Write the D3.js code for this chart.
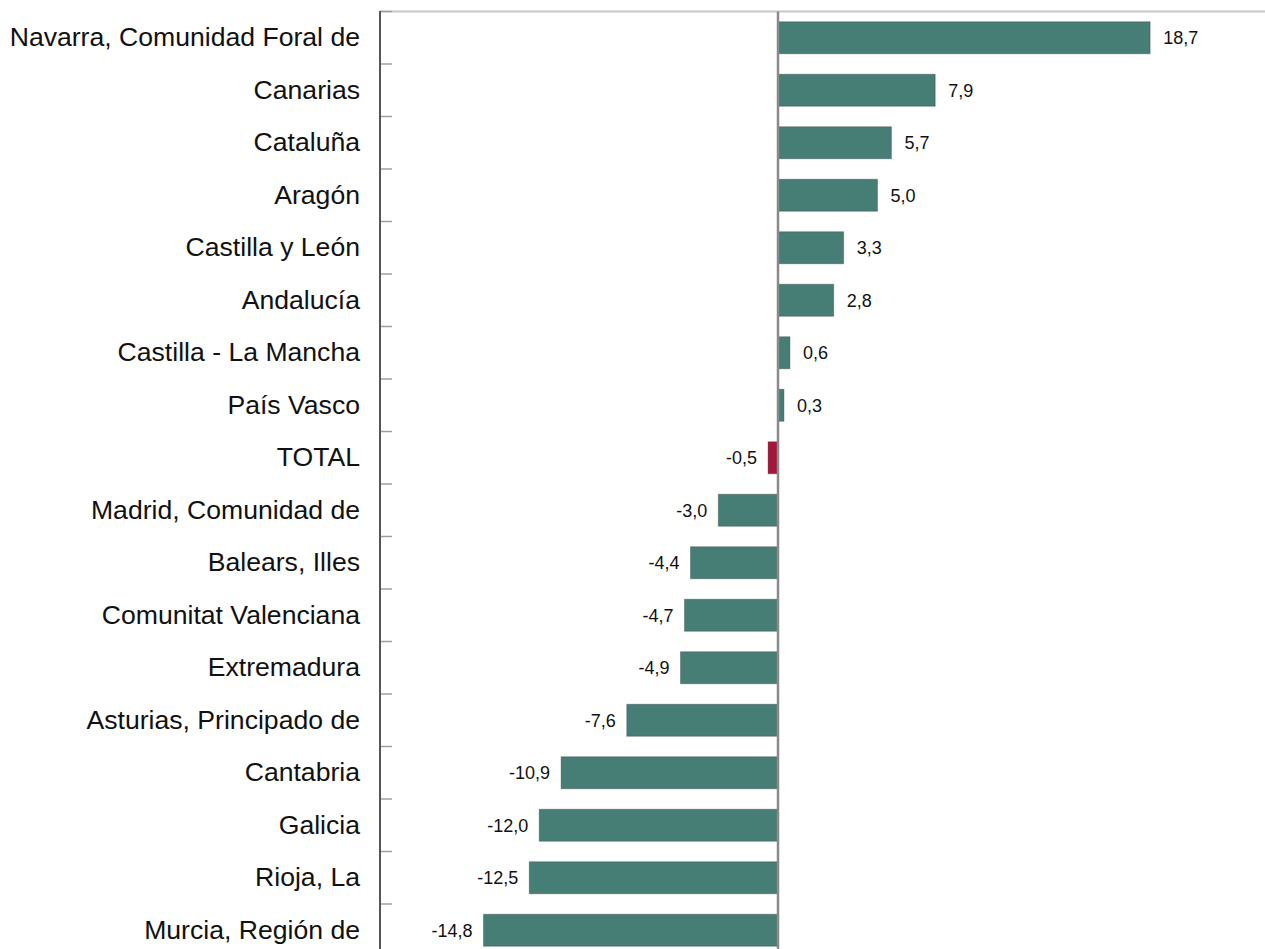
<!DOCTYPE html>
<html>
<head>
<meta charset="utf-8">
<script src="https://cdn.jsdelivr.net/npm/d3@7"></script>
<style>
  body { margin: 0; background: #fff; }
  svg { display: block; font-family: Arial, "Liberation Sans", sans-serif; }
</style>
</head>
<body>
<svg width="1265" height="949"></svg>
<script>
const regions = ['Navarra, Comunidad Foral de','Canarias','Cataluña','Aragón','Castilla y León',
                 'Andalucía','Castilla - La Mancha','País Vasco','TOTAL','Madrid, Comunidad de',
                 'Balears, Illes','Comunitat Valenciana','Extremadura','Asturias, Principado de',
                 'Cantabria','Galicia','Rioja, La','Murcia, Región de'];
const values = [18.7, 7.9, 5.7, 5.0, 3.3, 2.8, 0.6, 0.3, -0.5, -3.0, -4.4, -4.7, -4.9, -7.6, -10.9, -12.0, -12.5, -14.8];
const highlight = 'TOTAL';

const svg = d3.select('svg');
const width = +svg.attr('width');

const data = regions.map((r, i) => ({ region: r, value: values[i] }));

const xScale = d3.scaleLinear()
  .domain([-20, 25])
  .range([380, 1275.5]);

const yScale = d3.scaleBand()
  .domain(regions)
  .range([11.5, 11.5 + 52.5 * regions.length])
  .paddingInner(0.39)
  .paddingOuter(0.195);

const fmt = v => d3.format('.1f')(v).replace('.', ',').replace('−', '-');

// top border
svg.append('line')
  .attr('x1', 380).attr('x2', width)
  .attr('y1', 11.5).attr('y2', 11.5)
  .attr('stroke', '#c8c8c8').attr('stroke-width', 2);

// bars
svg.append('g').selectAll('rect').data(data)
  .enter().append('rect')
    .attr('x', d => xScale(Math.min(0, d.value)))
    .attr('y', d => yScale(d.region))
    .attr('width', d => Math.abs(xScale(d.value) - xScale(0)))
    .attr('height', yScale.bandwidth())
    .attr('fill', d => d.region === highlight ? '#a3173c' : '#467d74')
    .attr('stroke', 'rgba(60,60,60,0.35)')
    .attr('stroke-width', 1);

// zero line
svg.append('line')
  .attr('x1', xScale(0)).attr('x2', xScale(0))
  .attr('y1', 11.5).attr('y2', 949)
  .attr('stroke', '#8a8a8a').attr('stroke-width', 2.5);

// value labels
svg.append('g').selectAll('text').data(data)
  .enter().append('text')
    .attr('x', d => d.value >= 0 ? xScale(d.value) + 13 : xScale(d.value) - 11)
    .attr('y', d => yScale(d.region) + yScale.bandwidth() / 2)
    .attr('dy', '0.35em')
    .attr('text-anchor', d => d.value >= 0 ? 'start' : 'end')
    .attr('font-size', 18)
    .attr('fill', '#111')
    .text(d => fmt(d.value));

// left axis
const yAxis = d3.axisLeft(yScale).tickSize(0).tickPadding(20);
const ag = svg.append('g')
  .attr('transform', 'translate(380,0)')
  .call(yAxis);
ag.select('.domain').remove();
ag.selectAll('text')
  .attr('font-size', 26.6)
  .attr('fill', '#111')
  .attr('font-family', 'Arial, "Liberation Sans", sans-serif');

// band boundary ticks
const bounds = d3.range(regions.length + 1).map(i => 11.5 + 52.5 * i);
svg.append('g').selectAll('line').data(bounds)
  .enter().append('line')
    .attr('x1', 380).attr('x2', 392)
    .attr('y1', d => d).attr('y2', d => d)
    .attr('stroke', '#a0a0a0').attr('stroke-width', 1.5);

svg.append('line')
  .attr('x1', 380).attr('x2', 380)
  .attr('y1', 11).attr('y2', 949)
  .attr('stroke', '#555').attr('stroke-width', 2);
</script>
</body>
</html>
